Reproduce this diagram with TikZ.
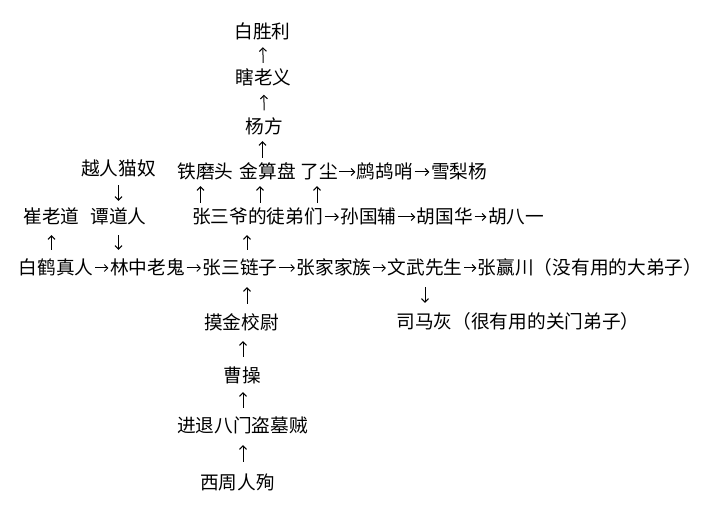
\documentclass[tikz,border=0pt]{standalone}
\usepackage{fontspec}
\usepackage{tikz}
\usetikzlibrary{arrows.meta}
\newfontfamily\cjk{Noto Sans CJK SC}
\tikzset{
    person/.style={
        inner sep=0pt,
        text height=16pt,
        text depth=2pt,
        font=\cjk\fontsize{18.67}{20}\selectfont
    },
    link/.style={
        draw,
        -{Straight Barb[length=3.5pt, width=7pt]},
        line width=1pt,
        shorten <=#1,
        shorten >=#1
    },
    link/.default=1.5pt
}

\begin{document}
\begin{tikzpicture}[x=1pt,y=-1pt]
  \useasboundingbox (0,0) rectangle (720,510);

  % Upper line of descent
  \node[person] (bsl) at (262.5,32) {白胜利};
  \node[person] (xly) at (263.5,78) {瞎老义};
  \node[person] (yf) at (264.5,127) {杨方};

  % Disciples of Zhang Sanye and their heirs
  \node[person] (yrmn) at (118.5,169) {越人猫奴};
  \node[person] (tmt) at (205.5,172) {铁磨头};
  \node[person] (jsp) at (268,172) {金算盘};
  \node[person] (lc) at (319,172) {了尘};
  \node[person] (zgs) at (385,172) {鹧鸪哨};
  \node[person] (xlyang) at (459,172) {雪梨杨};

  \node[person] (cld) at (51.5,217) {崔老道};
  \node[person] (tdr) at (118.5,217) {谭道人};
  \node[person] (zsy) at (257.5,217) {张三爷的徒弟们};
  \node[person] (sgf) at (368.5,217) {孙国辅};
  \node[person] (hgh) at (445,217) {胡国华};
  \node[person] (hby) at (516,217) {胡八一};

  % Main line
  \node[person] (bhzr) at (56,268) {白鹤真人};
  \node[person] (lzlg) at (147.5,268) {林中老鬼};
  \node[person] (zslz) at (240,268) {张三链子};
  \node[person] (zjjz) at (334,268) {张家家族};
  \node[person] (wwxs) at (425,268) {文武先生};
  \node[person] (zyc) at (590,268) {张赢川（没有用的大弟子）};
  \node[person] (smh) at (518,322) {司马灰（很有用的关门弟子）};

  % Lower line of origin
  \node[person] (mjxw) at (241.5,323) {摸金校尉};
  \node[person] (cc) at (242.5,375) {曹操};
  \node[person] (jtbm) at (242.5,425) {进退八门盗墓贼};
  \node[person] (xzrx) at (237.5,482) {西周人殉};

  % Connect upward
  \draw[link=6pt] (xly) -- (bsl);
  \draw[link=7.5pt] (yf) -- (xly);
  \draw[link=5pt] ([xshift=-2pt]yf.south |- jsp.north) -- ([xshift=-2pt]yf.south);
  \draw[link=5pt] ([xshift=-5pt]tmt.south |- zsy.north) -- ([xshift=-5pt]tmt.south);
  \draw[link=5pt] ([xshift=-8pt]jsp.south |- zsy.north) -- ([xshift=-8pt]jsp.south);
  \draw[link=5pt] ([xshift=-2pt]lc.south |- zsy.north) -- ([xshift=-2pt]lc.south);
  \draw[link=7pt] (yrmn) -- (tdr);
  \draw[link=9pt] (cld.south |- bhzr.north) -- (cld.south);
  \draw[link=9pt] (tdr.south) -- (tdr.south |- lzlg.north);
  \draw[link=9pt] ([xshift=7pt]zslz.north) -- ([xshift=7pt]zslz.north |- zsy.south);
  \draw[link=10pt] (wwxs.south) -- (wwxs.south |- smh.north);
  \draw[link=10pt] ([xshift=5.5pt]mjxw.north) -- ([xshift=5.5pt]mjxw.north |- zslz.south);
  \draw[link=9pt] ([xshift=0.5pt]cc.north) -- ([xshift=0.5pt]cc.north |- mjxw.south);
  \draw[link=8pt] ([xshift=0.5pt]jtbm.north) -- ([xshift=0.5pt]jtbm.north |- cc.south);
  \draw[link=11pt] ([xshift=0.5pt]jtbm.south |- xzrx.north) -- ([xshift=0.5pt]jtbm.south);

  % Connect sideways
  \draw[link] (lc) -- (zgs);
  \draw[link] (zgs) -- (xlyang);
  \draw[link] (zsy) -- (sgf);
  \draw[link] (sgf) -- (hgh);
  \draw[link] (hgh) -- (hby);
  \draw[link] (bhzr) -- (lzlg);
  \draw[link] (lzlg) -- (zslz);
  \draw[link] (zslz) -- (zjjz);
  \draw[link] (zjjz) -- (wwxs);
  \draw[link] (wwxs) -- (zyc);
\end{tikzpicture}
\end{document}
